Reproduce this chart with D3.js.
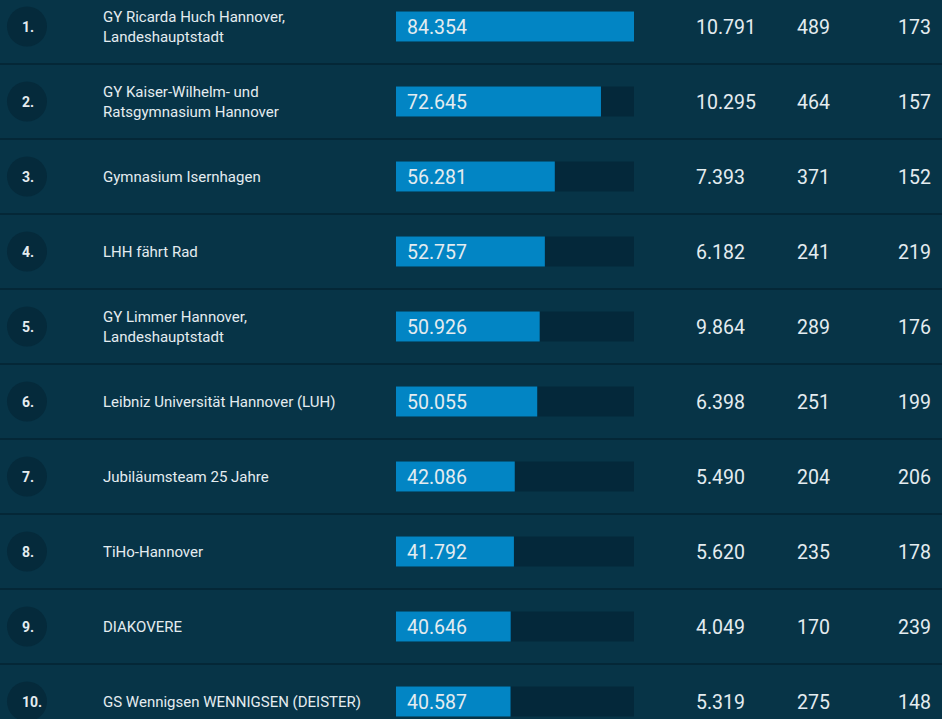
<!DOCTYPE html>
<html>
<head>
<meta charset="utf-8">
<script src="https://cdn.jsdelivr.net/npm/d3@7"></script>
<style>
  html, body { margin: 0; padding: 0; background: #073447; overflow: hidden; }
  svg { display: block; font-family: Roboto, "Noto Sans", sans-serif; }
</style>
</head>
<body>
<svg class="ranking" width="942" height="719"></svg>
<script>
// Ranking data
const ranks = ["1.", "2.", "3.", "4.", "5.", "6.", "7.", "8.", "9.", "10."];
const teams = [
    "GY Ricarda Huch Hannover,\nLandeshauptstadt",
    "GY Kaiser-Wilhelm- und\nRatsgymnasium Hannover",
    "Gymnasium Isernhagen",
    "LHH fährt Rad",
    "GY Limmer Hannover,\nLandeshauptstadt",
    "Leibniz Universität Hannover (LUH)",
    "Jubiläumsteam 25 Jahre",
    "TiHo-Hannover",
    "DIAKOVERE",
    "GS Wennigsen WENNIGSEN (DEISTER)"
];
const kilometers = [84354, 72645, 56281, 52757, 50926, 50055, 42086, 41792, 40646, 40587];
const co2 = ["10.791", "10.295", "7.393", "6.182", "9.864", "6.398", "5.490", "5.620", "4.049", "5.319"];
const riders = [489, 464, 371, 241, 289, 251, 204, 235, 170, 275];
const perRider = [173, 157, 152, 219, 176, 199, 206, 178, 239, 148];

const fmt = d3.formatLocale({ decimal: ",", thousands: ".", grouping: [3], currency: ["", "€"] }).format(",d");

const svg = d3.select(".ranking");
const width = +svg.attr("width");

const rows = ranks.map((r, i) => ({
    rank: r, team: teams[i], km: kilometers[i], co2: co2[i], riders: riders[i], perRider: perRider[i]
}));

// One band per row, 75px high
const y = d3.scaleBand()
    .domain(ranks)
    .range([-11, -11 + 75 * ranks.length])
    .padding(0);

const x = d3.scaleLinear()
    .domain([0, d3.max(kilometers)])
    .range([396, 634]);

const barH = 30;
const textColor = "#e4ecf0";

const row = svg.selectAll(".row")
    .data(rows)
    .enter().append("g")
    .attr("class", "row")
    .attr("transform", d => `translate(0,${y(d.rank) + y.bandwidth() / 2})`);

// Separator lines
row.append("line")
    .attr("x1", 0)
    .attr("x2", width)
    .attr("y1", y.bandwidth() / 2)
    .attr("y2", y.bandwidth() / 2)
    .attr("stroke", "#042332")
    .attr("stroke-width", 1.5);

// Rank circle
row.append("circle")
    .attr("cx", 27)
    .attr("cy", 0)
    .attr("r", 20)
    .attr("fill", "#052a3b");

row.append("text")
    .attr("x", 22)
    .attr("dy", "0.4em")
    .attr("fill", textColor)
    .attr("font-size", 14)
    .attr("font-weight", "bold")
    .text(d => d.rank);

// Team name (one or two lines)
row.append("text")
    .attr("fill", textColor)
    .attr("font-size", 15)
    .each(function(d) {
        const lines = d.team.split("\n");
        const t = d3.select(this);
        lines.forEach((l, k) => {
            t.append("tspan")
                .attr("x", 103)
                .attr("y", (k - (lines.length - 1) / 2) * 20)
                .attr("dy", "0.38em")
                .text(l);
        });
    });

// Bar track and bar
row.append("rect")
    .attr("x", x(0))
    .attr("y", -barH / 2)
    .attr("width", x.range()[1] - x(0))
    .attr("height", barH)
    .attr("fill", "#04283a");

row.append("rect")
    .attr("x", x(0))
    .attr("y", -barH / 2)
    .attr("width", d => x(d.km) - x(0))
    .attr("height", barH)
    .attr("fill", "#0285c4");

row.append("text")
    .attr("x", x(0) + 11)
    .attr("dy", "0.38em")
    .attr("fill", textColor)
    .attr("font-size", 19.5)
    .text(d => fmt(d.km));

// Number columns
row.append("text")
    .attr("x", 696)
    .attr("dy", "0.38em")
    .attr("fill", textColor)
    .attr("font-size", 19.5)
    .text(d => d.co2);

row.append("text")
    .attr("x", 797)
    .attr("dy", "0.38em")
    .attr("fill", textColor)
    .attr("font-size", 19.5)
    .text(d => d.riders);

row.append("text")
    .attr("x", 931)
    .attr("dy", "0.38em")
    .attr("text-anchor", "end")
    .attr("fill", textColor)
    .attr("font-size", 19.5)
    .text(d => d.perRider);
</script>
</body>
</html>
